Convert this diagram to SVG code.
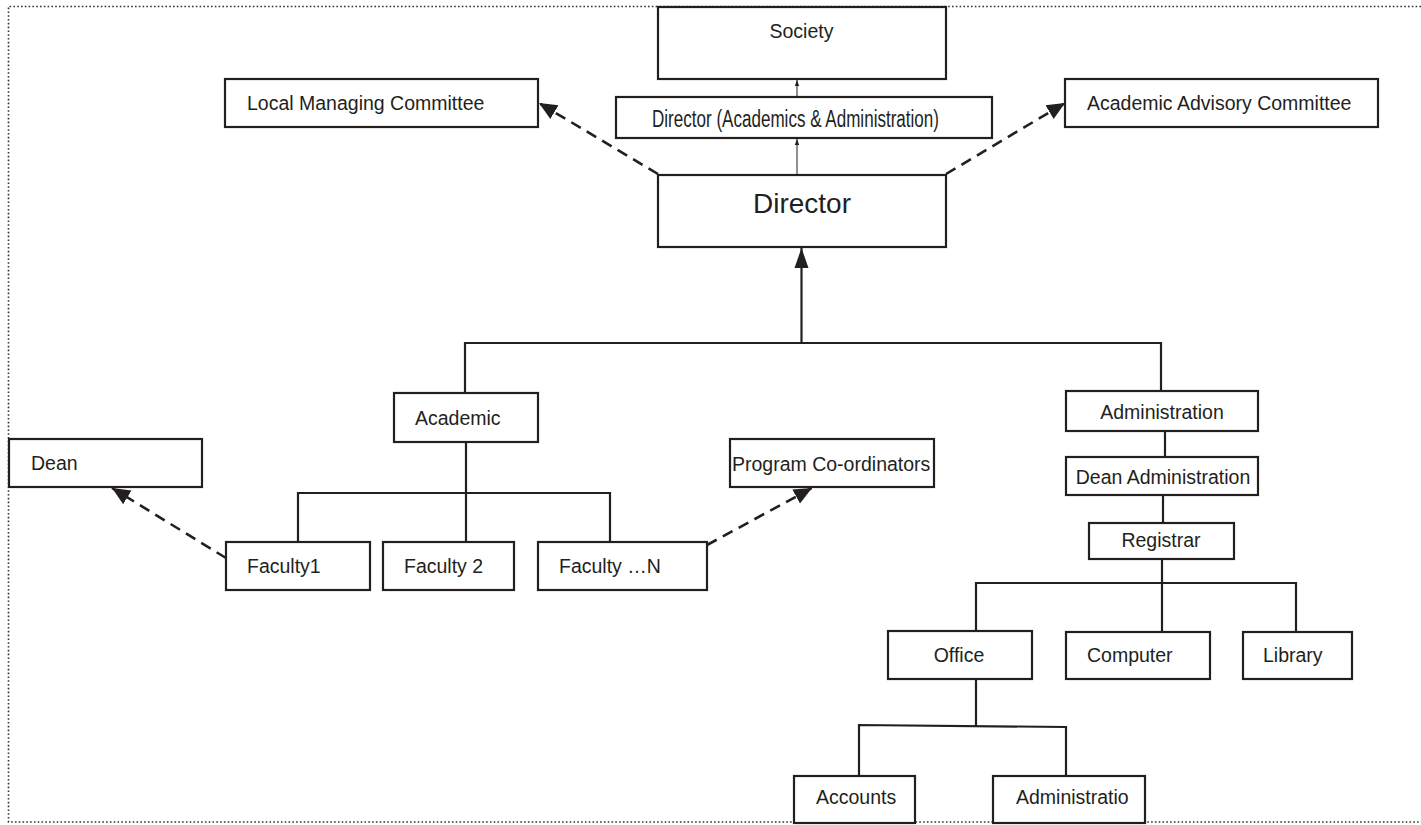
<svg xmlns="http://www.w3.org/2000/svg" width="1421" height="825" viewBox="0 0 1421 825">
<style>
.box{fill:#fff;stroke:#231f20;stroke-width:2.2}
.t{font-family:"Liberation Sans",Arial,sans-serif;font-size:19.5px;fill:#231f20}
.big{font-size:28px}
.cond{font-size:23px}
.ln{fill:none;stroke:#231f20;stroke-width:2.2}
.thin{fill:none;stroke:#231f20;stroke-width:1}
.dash{fill:none;stroke:#231f20;stroke-width:2.6;stroke-dasharray:11 7}
.frame{fill:none;stroke:#333;stroke-width:1.6;stroke-dasharray:1.6 2.2}
</style>
<defs>
<marker id="ah" markerUnits="userSpaceOnUse" markerWidth="20" markerHeight="20" viewBox="0 0 20 20" refX="18" refY="10" orient="auto">
<path d="M0,2 L18,10 L0,18 Z" fill="#231f20"/>
</marker>
<marker id="big" markerUnits="userSpaceOnUse" markerWidth="20" markerHeight="20" viewBox="0 0 20 20" refX="20" refY="10" orient="auto">
<path d="M0,3 L20,10 L0,17 Z" fill="#231f20"/>
</marker>
<marker id="sm" markerUnits="userSpaceOnUse" markerWidth="6" markerHeight="6" viewBox="0 0 6 6" refX="6" refY="3" orient="auto">
<path d="M0,0.8 L6,3 L0,5.2 Z" fill="#231f20"/>
</marker>
</defs>
<rect width="1421" height="825" fill="#fff"/>
<g id="frame">
<path class="frame" d="M1421,6.5 H8.5 V822 H1421"/>
</g>
<g id="connectors">
<line class="thin" x1="797" y1="97" x2="797" y2="80" marker-end="url(#sm)"/>
<line class="thin" x1="797" y1="175" x2="797" y2="139" marker-end="url(#sm)"/>
<line class="ln" x1="801.5" y1="343" x2="801.5" y2="248" stroke-width="2.6" marker-end="url(#big)"/>
<line class="dash" x1="658" y1="174" x2="539" y2="103" marker-end="url(#ah)"/>
<line class="dash" x1="946" y1="174" x2="1065" y2="103" marker-end="url(#ah)"/>
<line class="dash" x1="226" y1="558" x2="112" y2="488" marker-end="url(#ah)"/>
<line class="dash" x1="707" y1="545" x2="812" y2="488" marker-end="url(#ah)"/>
<path class="ln" d="M465,393 V343 H1161 V391"/>
<path class="ln" d="M466,442 V541"/>
<path class="ln" d="M298,542 V493 H610 V542"/>
<path class="ln" d="M1165,431 V457"/>
<path class="ln" d="M1163,495 V523"/>
<path class="ln" d="M1162,559 V632"/>
<path class="ln" d="M976,631 V583 H1296 V632"/>
<path class="ln" d="M976,679 V726"/>
<path class="ln" d="M859,776 V725 L1066,727 V776"/>
</g>
<g id="society"><rect class="box" x="658" y="7" width="288" height="72"/><text class="t" x="801.5" y="38" text-anchor="middle">Society</text></g>
<g id="director-aa"><rect class="box" x="616" y="97" width="376" height="41"/><text class="t cond" x="652" y="127" textLength="287" lengthAdjust="spacingAndGlyphs">Director (Academics &amp; Administration)</text></g>
<g id="director"><rect class="box" x="658" y="175" width="288" height="72"/><text class="t big" x="802" y="213" text-anchor="middle">Director</text></g>
<g id="lmc"><rect class="box" x="225" y="79" width="313" height="48"/><text class="t" x="247" y="110">Local Managing Committee</text></g>
<g id="aac"><rect class="box" x="1065" y="79" width="313" height="48"/><text class="t" x="1087" y="110">Academic Advisory Committee</text></g>
<g id="academic"><rect class="box" x="394" y="393" width="144" height="49"/><text class="t" x="415" y="425">Academic</text></g>
<g id="dean"><rect class="box" x="9" y="439" width="193" height="48"/><text class="t" x="31" y="470">Dean</text></g>
<g id="prog"><rect class="box" x="730" y="439" width="204" height="48"/><text class="t" x="732" y="471">Program Co-ordinators</text></g>
<g id="faculty1"><rect class="box" x="226" y="542" width="144" height="48"/><text class="t" x="247" y="573">Faculty1</text></g>
<g id="faculty2"><rect class="box" x="383" y="542" width="131" height="48"/><text class="t" x="404" y="573">Faculty 2</text></g>
<g id="facultyn"><rect class="box" x="538" y="542" width="169" height="48"/><text class="t" x="559" y="573">Faculty …N</text></g>
<g id="administration"><rect class="box" x="1066" y="391" width="192" height="40"/><text class="t" x="1162" y="419" text-anchor="middle">Administration</text></g>
<g id="dean-admin"><rect class="box" x="1066" y="457" width="192" height="38"/><text class="t" x="1163" y="484" text-anchor="middle">Dean Administration</text></g>
<g id="registrar"><rect class="box" x="1089" y="523" width="145" height="36"/><text class="t" x="1161" y="547" text-anchor="middle">Registrar</text></g>
<g id="office"><rect class="box" x="888" y="631" width="144" height="48"/><text class="t" x="959" y="662" text-anchor="middle">Office</text></g>
<g id="computer"><rect class="box" x="1066" y="632" width="144" height="47"/><text class="t" x="1087" y="662">Computer</text></g>
<g id="library"><rect class="box" x="1243" y="632" width="109" height="47"/><text class="t" x="1263" y="662">Library</text></g>
<g id="accounts"><rect class="box" x="794" y="776" width="121" height="47"/><text class="t" x="816" y="804">Accounts</text></g>
<g id="administratio"><rect class="box" x="993" y="776" width="152" height="47"/><text class="t" x="1016" y="804">Administratio</text></g>
</svg>
